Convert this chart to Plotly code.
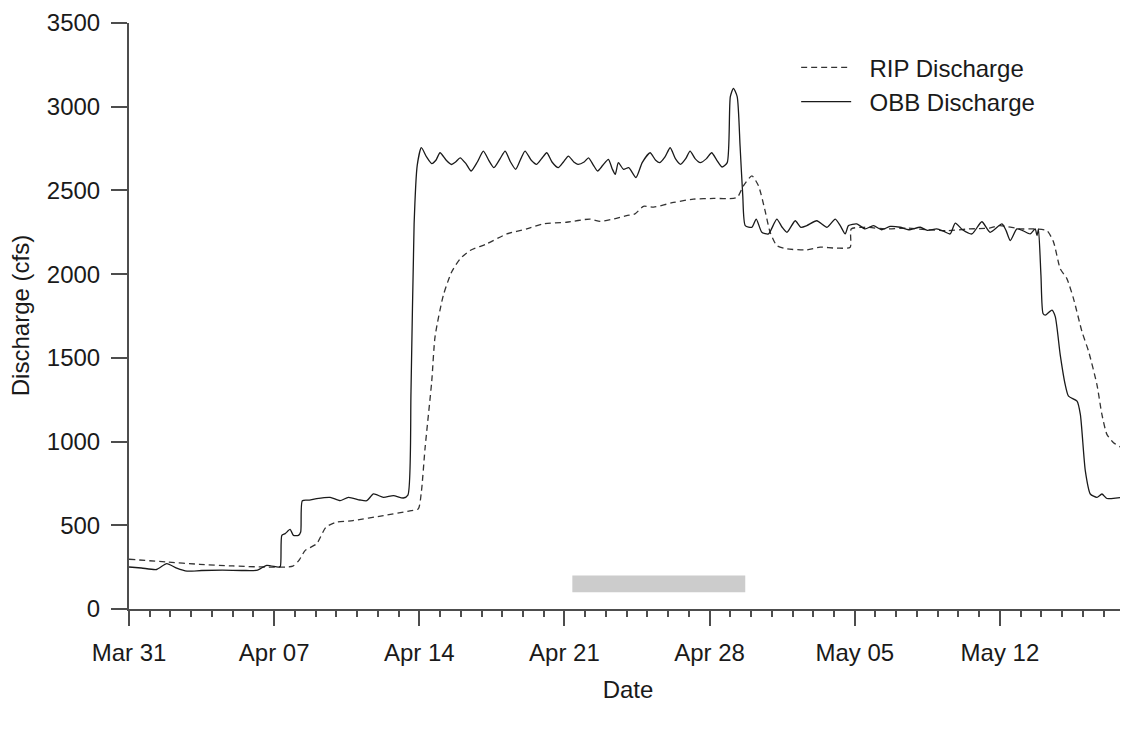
import pandas as pd
import plotly.graph_objects as go

# ---- data (days since Mar 31 00:00, discharge in cfs) ----
start_date = "2014-03-31"

obb_day = [0.0, 0.6, 1.33, 1.82, 2.3, 2.8, 3.5, 4.5, 5.5, 6.2, 6.64, 7.2, 7.3,
           7.37, 7.53, 7.77, 7.93, 8.17, 8.28, 8.36, 8.7, 9.05, 9.7, 10.18, 10.58,
           11.14, 11.47, 11.79, 12.27, 12.75, 13.23, 13.45, 13.6, 13.75, 13.9,
           14.1, 14.35, 14.6, 14.8, 15.0, 15.3, 15.55, 15.75, 15.97, 16.25, 16.5,
           16.8, 17.09, 17.35, 17.6, 17.9, 18.14, 18.4, 18.65, 18.9, 19.1, 19.4,
           19.65, 19.9, 20.15, 20.4, 20.7, 20.95, 21.19, 21.45, 21.65, 21.95, 22.16,
           22.4, 22.6, 22.85, 23.12, 23.3, 23.45, 23.6, 23.85, 24.1, 24.45, 24.75,
           25.13, 25.4, 25.6, 25.85, 26.1, 26.35, 26.6, 26.85, 27.06, 27.3, 27.55,
           27.85, 28.1, 28.35, 28.6, 28.85, 29.0, 29.15, 29.33, 29.47, 29.6, 29.72,
           30.04, 30.25, 30.52, 30.84, 31.24, 31.5, 31.73, 32.13, 32.4, 32.69, 33.17,
           33.66, 34.06, 34.3, 34.54, 34.7, 35.1, 35.5, 35.9, 36.3, 36.7, 37.19,
           37.6, 38.16, 38.5, 38.96, 39.3, 39.6, 39.85, 40.2, 40.65, 41.13, 41.53,
           42.1, 42.3, 42.5, 42.82, 43.1, 43.46, 43.7, 43.79, 43.86, 43.98, 44.08,
           44.19, 44.51, 44.67, 44.91, 45.15, 45.31, 45.72, 45.88, 46.12, 46.36,
           46.68, 46.92, 47.16, 47.8, 48.15]
obb_cfs = [251, 245, 236, 271, 244, 226, 230, 232, 230, 232, 261, 250, 255,
           440, 450, 475, 440, 440, 460, 647, 650, 659, 667, 647, 667,
           651, 647, 687, 667, 677, 663, 680, 1300, 2300, 2650,
           2755, 2700, 2660, 2680, 2725, 2680, 2655, 2670, 2695, 2660, 2616,
           2670, 2735, 2680, 2636, 2690, 2735, 2670, 2626, 2690, 2735, 2680,
           2656, 2690, 2725, 2670, 2636, 2670, 2705, 2670, 2656, 2670, 2695,
           2650, 2616, 2650, 2686, 2630, 2596, 2666, 2626, 2636, 2577, 2666,
           2725, 2680, 2666, 2700, 2755, 2690, 2656, 2690, 2735, 2690, 2666,
           2690, 2725, 2680, 2640, 2666, 3060, 3110, 3060, 2765, 2468, 2290,
           2280, 2329, 2250, 2240, 2329, 2280, 2250, 2319, 2280, 2290, 2319,
           2280, 2329, 2290, 2240, 2290, 2300, 2270, 2290, 2265, 2285, 2280,
           2265, 2280, 2262, 2270, 2255, 2240, 2305, 2265, 2240, 2313, 2250,
           2300, 2260, 2201, 2270, 2260, 2240, 2270, 2230, 2270, 1993, 1765,
           1755, 1785, 1746, 1518, 1340, 1271, 1241, 1162, 825, 687,
           667, 687, 660, 665, 660]

rip_day = [0.0, 1.8, 3.4, 5.0, 7.9, 8.2, 8.5, 9.05, 9.5, 10.0, 10.8, 12.27, 13.5,
           13.95, 14.1, 14.28, 14.6, 14.76, 15.16, 15.56, 15.97, 16.45, 17.25,
           18.22, 19.18, 19.99, 21.1, 22.24, 22.72, 23.4, 24.0, 24.4, 24.81, 25.3,
           26.26, 27.22, 28.19, 29.15, 29.35, 29.63, 30.04, 30.36, 30.68, 30.92,
           31.24, 31.73, 32.69, 33.33, 34.14, 34.78, 34.83, 35.5, 36.5, 37.5, 38.5,
           39.5, 40.5, 41.5, 42.0, 43.0, 43.6, 44.27, 44.59, 44.91, 45.23, 45.55,
           45.96, 46.28, 46.68, 46.92, 47.16, 47.48, 47.89, 48.15]
rip_cfs = [297, 281, 267, 257, 256, 291, 350, 390, 489, 518, 528, 558, 585,
           598, 700, 963, 1360, 1627, 1874, 2013, 2092, 2141, 2181,
           2240, 2270, 2300, 2310, 2329, 2315, 2330, 2349, 2360, 2405, 2400,
           2428, 2448, 2452, 2452, 2460, 2527, 2587, 2527, 2376, 2250,
           2171, 2151, 2145, 2161, 2155, 2161, 2270, 2280, 2270, 2275, 2265,
           2260, 2270, 2275, 2290, 2270, 2270, 2260, 2191, 2032, 1973, 1854,
           1656, 1538, 1340, 1162, 1043, 993, 963, 950]

# grey period bar: start/end day and low/high discharge
bar_day = [21.38, 29.72]
bar_cfs = [100, 200]

x_end_day = 48.13

base = pd.Timestamp(start_date)
to_dt = lambda d: base + pd.to_timedelta(d, unit="D")
obb_t = [to_dt(d) for d in obb_day]
rip_t = [to_dt(d) for d in rip_day]

FONT = "Liberation Sans, Arial, sans-serif"
AX = "#4d4d4d"
NB = "\u00a0\u00a0"

fig = go.Figure()

fig.add_shape(type="rect", xref="x", yref="y",
              x0=to_dt(bar_day[0]), x1=to_dt(bar_day[1]),
              y0=bar_cfs[0], y1=bar_cfs[1],
              fillcolor="#cccccc", line=dict(width=0), layer="below")

fig.add_trace(go.Scatter(x=rip_t, y=rip_cfs, mode="lines", name=NB + "RIP Discharge",
                         line=dict(color="#333333", width=1.3, dash="6px,4px",
                                   shape="spline", smoothing=0.6)))
fig.add_trace(go.Scatter(x=obb_t, y=obb_cfs, mode="lines", name=NB + "OBB Discharge",
                         line=dict(color="#1a1a1a", width=1.3,
                                   shape="spline", smoothing=0.6)))

# y-axis title (placed relative to the plot area)
fig.add_annotation(text="Discharge (cfs)", xref="paper", yref="paper",
                   x=-0.109, y=0.5, xanchor="center", yanchor="middle",
                   textangle=-90, showarrow=False, font=dict(size=24))

# page body has an 8px margin: figure sized/margined so the plot area lands at
# x 129..1127, y 19.5..609 in the window
fig.update_layout(
    width=1120, height=726,
    margin=dict(l=121, r=1, t=11.5, b=125),
    paper_bgcolor="white", plot_bgcolor="white",
    font=dict(family=FONT, size=24, color="#1a1a1a"),
    showlegend=True,
    legend=dict(x=0.6685, y=0.962, xanchor="left", yanchor="top",
                bgcolor="rgba(0,0,0,0)", borderwidth=0,
                font=dict(size=24), itemwidth=50, tracegroupgap=0),
)

fig.update_xaxes(
    range=[base, to_dt(x_end_day)],
    type="date",
    tickmode="linear", tick0=base, dtick=7 * 86400000,
    tickformat="%b %d",
    ticks="outside", ticklen=15, tickwidth=1.5, tickcolor=AX,
    showline=True, linecolor=AX, linewidth=2,
    showgrid=False, zeroline=False,
    ticklabelstandoff=6, ticklabeloverflow="allow",
    minor=dict(dtick=86400000, tick0=base, ticks="outside", ticklen=6,
               tickwidth=1.5, tickcolor=AX, showgrid=False),
    title=dict(text="Date", standoff=16, font=dict(size=24)),
)

fig.update_yaxes(
    range=[0, 3500],
    tickmode="linear", tick0=0, dtick=500,
    ticks="outside", ticklen=16, tickwidth=1.5, tickcolor=AX,
    showline=True, linecolor=AX, linewidth=2,
    showgrid=False, zeroline=False,
    ticklabelstandoff=6, ticklabeloverflow="allow",
)

fig.write_html("out.html")
